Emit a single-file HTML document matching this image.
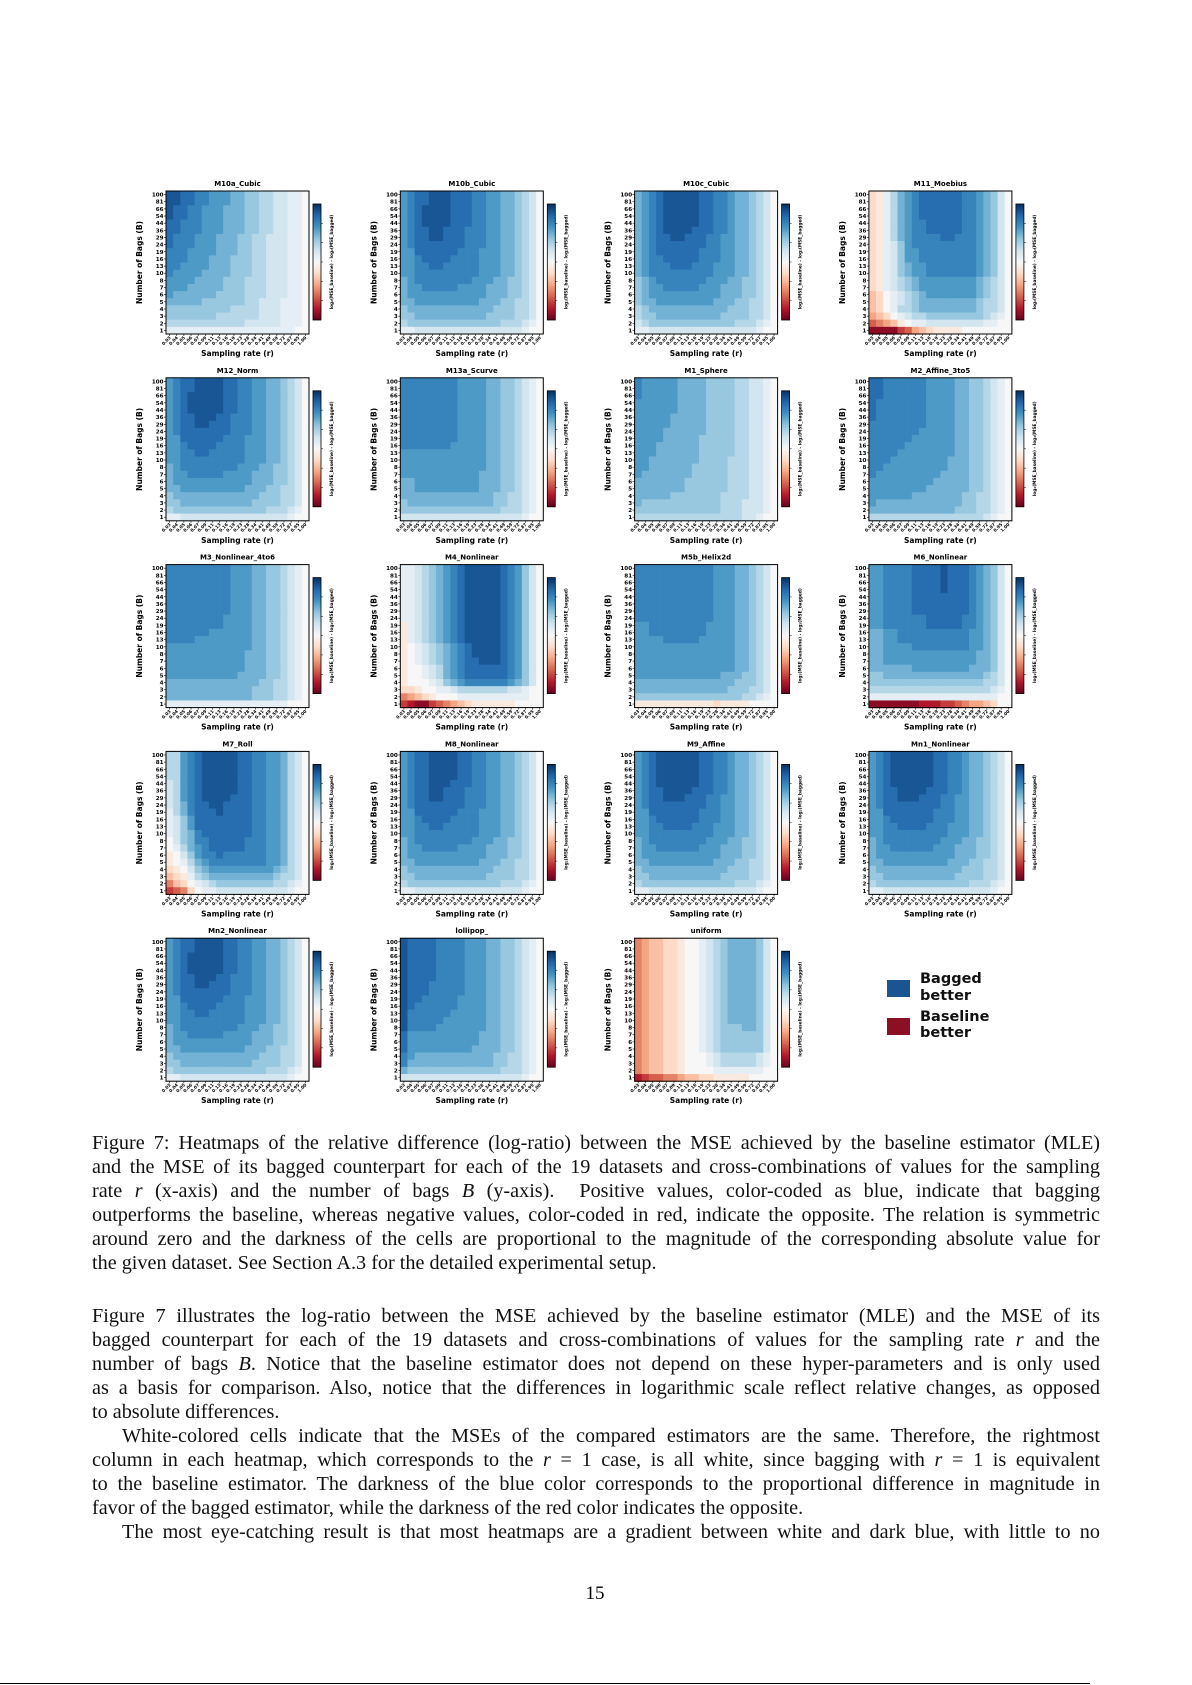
<!DOCTYPE html>
<html><head><meta charset="utf-8">
<style>
html,body{margin:0;padding:0;background:#fff;}
body{width:1192px;height:1685px;position:relative;overflow:hidden;}
#fig{position:absolute;left:0;top:0;}
.ln{position:absolute;left:92px;width:1008px;height:24px;line-height:24px;font-family:"Liberation Serif",serif;font-size:20.2px;color:#111;text-align:justify;text-align-last:justify;white-space:nowrap;}
.ln.last{text-align-last:left;}
.ln.ind{left:122px;width:978px;}
i{font-style:italic;}
</style></head>
<body>
<svg id="fig" width="1192" height="1685"></svg>

<div>
<div class="ln" style="top:1131px">Figure 7: Heatmaps of the relative difference (log-ratio) between the MSE achieved by the baseline estimator (MLE)</div>
<div class="ln" style="top:1155px">and the MSE of its bagged counterpart for each of the 19 datasets and cross-combinations of values for the sampling</div>
<div class="ln" style="top:1179px">rate <i>r</i> (x-axis) and the number of bags <i>B</i> (y-axis). &nbsp;Positive values, color-coded as blue, indicate that bagging</div>
<div class="ln" style="top:1203px">outperforms the baseline, whereas negative values, color-coded in red, indicate the opposite. The relation is symmetric</div>
<div class="ln" style="top:1227px">around zero and the darkness of the cells are proportional to the magnitude of the corresponding absolute value for</div>
<div class="ln last" style="top:1251px">the given dataset. See Section A.3 for the detailed experimental setup.</div>
</div>
<div>
<div class="ln" style="top:1304px">Figure 7 illustrates the log-ratio between the MSE achieved by the baseline estimator (MLE) and the MSE of its</div>
<div class="ln" style="top:1328px">bagged counterpart for each of the 19 datasets and cross-combinations of values for the sampling rate <i>r</i> and the</div>
<div class="ln" style="top:1352px">number of bags <i>B</i>. Notice that the baseline estimator does not depend on these hyper-parameters and is only used</div>
<div class="ln" style="top:1376px">as a basis for comparison. Also, notice that the differences in logarithmic scale reflect relative changes, as opposed</div>
<div class="ln last" style="top:1400px">to absolute differences.</div>
<div class="ln ind" style="top:1424px">White-colored cells indicate that the MSEs of the compared estimators are the same. Therefore, the rightmost</div>
<div class="ln" style="top:1448px">column in each heatmap, which corresponds to the <i>r</i> = 1 case, is all white, since bagging with <i>r</i> = 1 is equivalent</div>
<div class="ln" style="top:1472px">to the baseline estimator. The darkness of the blue color corresponds to the proportional difference in magnitude in</div>
<div class="ln last" style="top:1496px">favor of the bagged estimator, while the darkness of the red color indicates the opposite.</div>
<div class="ln ind" style="top:1520px">The most eye-catching result is that most heatmaps are a gradient between white and dark blue, with little to no</div>
</div>
<div style="position:absolute;left:580px;top:1583px;width:30px;text-align:center;font-family:'Liberation Serif',serif;font-size:19px;">15</div>
<div style="position:absolute;left:0;top:1683px;width:1090px;height:1px;background:#000;"></div>

<script>
const yTicks=["100","81","66","54","44","36","29","24","19","16","13","10","8","7","6","5","4","3","2","1"];
const xTicks=["0.03","0.04","0.05","0.06","0.07","0.09","0.11","0.13","0.16","0.19","0.23","0.28","0.34","0.41","0.49","0.59","0.72","0.87","0.95","1.00"];
const panelTitles=["M10a_Cubic","M10b_Cubic","M10c_Cubic","M11_Moebius","M12_Norm","M13a_Scurve","M1_Sphere","M2_Affine_3to5","M3_Nonlinear_4to6","M4_Nonlinear","M5b_Helix2d","M6_Nonlinear","M7_Roll","M8_Nonlinear","M9_Affine","Mn1_Nonlinear","Mn2_Nonlinear","lollipop_","uniform"];

// cell intensity codes: '0' white, '1'-'9' blue (bagged better), 'a'-'i' red (baseline better)
const gridM10a=["99887766655443322110","99887766655443322110","98877666555443322110","98877666555443322110","88777666555443322110","88777666555443322110","87776665554433222110","87776665554433222110","77766665554433222110","77766655544433222110","77666655544433222110","76666555544433222110","66665555444333222110","66655555444333222110","65555554444333222110","55555444444332221110","44444444433332221110","44444443333332221110","33333333333222221110","11111111111111111100"];
const gridM10b=["67889998887766554320","67889998887766554320","67899998887766554320","67899998887766554320","67899998887766554320","67889988877766554320","67889988877766554320","67888888877766554320","66888888777666554320","66788887777666554320","66778877777666554320","66777777777666554320","56777777776665544320","56677777666655544320","56666666666655544320","55666666666555443320","45555555555554443320","44555555555544443320","34444444444444333210","11222222222222222100"];
const gridM10c=["56789999988776554320","56789999988776554320","56789999988776554320","56789999988776554320","56789999988776554320","56789999888776554320","56788998887766554320","56788888887766554320","56788888877766554320","56778888877766554320","56777888777666554320","56777777777666554320","45677777776665544320","45667777766655544320","45666666666655544320","45566666666555443320","34555555555554443320","34455555555544443320","23444444444444333210","11222222222222222100"];
const gridM11=["ba135678888887765420","ba135678888887765420","ba135678888887765420","ba135678888887765420","ba135677888887765420","ba135677888887765420","ba135677778877765420","ba124677777777765420","ba124667777777765420","ba124667777777765420","ba124566777777765420","ba124566777777765420","ba123456666666654320","ba123456666666654320","cb012345666666654320","cb012345555555543320","cb013345555555543320","dcb01233444444443210","fedca011222222221100","iiiigfdcbaaaa0000000"];
const gridM12=["67889999887766554320","67889999887766554320","67899999887766554320","67899999887766554320","67899999887766554320","67889998877766554320","67889988877766554320","67888888877766554320","66888888777666554320","66788887777666554320","66778877777666554320","66777777777666554320","56777777776665544320","56677777666655544320","56666666666655544320","55666666666555443320","45555555555554443320","44555555555544443320","34444444444444333210","11222222222222222100"];
const gridM13a=["77777777666655443210","77777777666655443210","77777777666655443210","77777777666655443210","77777777666655443210","77777777666655443210","77777777666655443210","77777777666655443210","77777777666655443210","77777776666655443210","66666666666655443210","66666666666655443210","66666666666655443210","66666666666555443210","55666666666555443210","55666666666555443210","55555555555554433210","45555555555554433210","44444444444444333210","22222222222222222100"];
const gridM1=["76666655554444332210","76666655554444332210","76666655554444332210","66666655554444332210","66666655554444332210","66666555554444332210","66666555554444332210","66665555554444332210","66665555544444332210","66655555544444332210","66655555544444332210","66555555544443332210","66555555444443332210","65555555444443332210","55555554444443332210","55555554444443332210","55555444444433332210","54444444444433322210","44444444444433322210","33333333333333322100"];
const gridM2=["88777777666655443210","88777777666655443210","88777777666655443210","87777777666655443210","87777777666655443210","87777777666655443210","77777777666655443210","77777776666655443210","77777766666655443210","77777666666655443210","77776666666655443210","77766666666555443210","77666666666555443210","76666666665555443210","66666666655555443210","66666666555555443210","66666655555554433210","65555555555554433210","55555555555544433210","33333333333333332100"];
const gridM3=["77777777766655443210","77777777766655443210","77777777766655443210","77777777766655443210","77777777766655443210","77777777766655443210","77777777766655443210","77777777666655443210","77777777666655443210","77777766666655443210","77776666666655443210","66666666666655443210","66666666666555443210","66666666666555443210","66666666666555443210","66666666665555443210","55555555555554433210","55555555555544433210","55555555555544433210","11111111111111111000"];
const gridM4=["11234567899999876420","11234567899999876420","11234567899999876420","11234567899999876420","11234567899999876420","11234567899999876420","11234567899999876420","11234567899999876420","a1234567899999876420","a1234567899999876420","a1234567899999876420","a0123456789999876420","a0123456789999876420","a0123456788999876420","a0012356788888876420","a0012356788888876420","a0001245677777765420","bba00112333333322100","edcba000111111111100","ghiigfedcbaaaaaa0000"];
const gridM5b=["77777777777666554320","77777777777666554320","77777777777666554320","77777777777666554320","77777777777666554320","77777777777666554320","77777777777666554320","77777777777666554320","66777777776666554320","66777777776666554320","66667777766666554320","66666666666666554320","66666666666666554320","66666666666666554320","66666666666666554320","66666666666655544320","55555555555555444320","55555555555554443320","44444444444444433210","aaaaaaaaaaabaaaa0000"];
const gridM6=["66777788889888765420","66777788889888765420","66777788889888765420","66777788889888765420","66777788888888765420","66777788888888765420","66777788888888765420","66777777888887765420","66777777888887765420","55667777777777665420","55667777777777665420","55666677777777665420","55666666666666655420","55666666666666655420","55555566666666555420","44555555555555554320","44444444444444443320","33333333333333333210","11111111111111111100","iiiiiiihhhggfeddcb00"];
const gridM7=["33678999998877665320","33678999998877665320","33678999998877665320","33678999998877665320","23678999998877665320","23678999998877665320","23678999988877665320","23578899888877665320","13578889888877665320","12468888888877665320","12468888888877665320","12457888888877665320","02457788888777665320","01356788888777665320","a0246778777777665320","a0135677777777665320","ba024566666666654320","cba13455555555543320","ecb01234444444433210","gfeb0112222222222100"];
const gridM8=["67889999887766554320","67889999887766554320","67889999887766554320","67889999887766554320","67889998887766554320","67889988877766554320","67889988877766554320","67888888877766554320","66888888777666554320","66788887777666554320","66778877777666554320","66777777777666554320","56777777776665544320","56677777666655544320","56666666666655544320","55666666666555443320","45555555555554443320","44555555555544443320","34444444444444333210","11222222222222222100"];
const gridM9=["67899999988776554320","67899999988776554320","67899999988776554320","67899999988776554320","67899999988776554320","67889999888776554320","67889998887766554320","67888888887766554320","66888888877766554320","66788888877766554320","66778888777666554320","66777777777666554320","56777777776665544320","56677777766655544320","56666666666655544320","55666666666555443320","45555555555554443320","44555555555544443320","34444444444444333210","11222222222222222100"];
const gridMn1=["67899999988776554320","67899999988776554320","67899999988776554320","67899999988776554320","67899999988776554320","67889999888776554320","67889998887766554320","67888888887766554320","66888888877766554320","66788888877766554320","66778888777666554320","66777777777666554320","56777777776665544320","56677777766655544320","56666666666655544320","55666666666555443320","45555555555554443320","44555555555544443320","34444444444444333210","11222222222222222100"];
const gridMn2=["67889999887766554320","67889999887766554320","67899999887766554320","67899999887766554320","67899999887766554320","67889998877766554320","67889988877766554320","67888888877766554320","66888888777666554320","66788887777666554320","66778877777666554320","66777777777666554320","56777777776665544320","56677777666655544320","56666666666655544320","55666666666555443320","45555555555554443320","44555555555544443320","34444444444444333210","11222222222222222100"];
const gridLollipop=["98888777766655443210","98888777766655443210","98888777766655443210","98888777766655443210","98888777766655443210","98888777766655443210","98887777766655443210","98887777766655443210","98877777666655443210","98777777666655443210","97777776666655443210","97777766666655443210","97777666666655443210","86666666666555443210","86666666666555443210","86666666665555443210","76555555555554433210","75555555555554433210","54444444444444333210","22222222222222222100"];
const gridUniform=["edccbba0012345555420","edccbba0012345555420","edccbba0012345555420","edccbba0012345555420","edccbba0012345555420","edccbba0012345555420","edccbba0012345555420","edccbba0012345555420","edccbba0012345555420","edccbba0012345555420","edccbba0012345555420","edccbba0012345555420","edccbba0012344455420","edccbba0012344444420","edccbba0012344444420","edccbba0012344444420","edccbba0001233333210","edccbba0001233333210","edccbba0000111111100","hgffeedccbbaaaaa0000"];
const gridList=[gridM10a,gridM10b,gridM10c,gridM11,gridM12,gridM13a,gridM1,gridM2,gridM3,gridM4,gridM5b,gridM6,gridM7,gridM8,gridM9,gridMn1,gridMn2,gridLollipop,gridUniform];

const NS="http://www.w3.org/2000/svg";
const svg=document.getElementById('fig');
const STOPS=['#67001f','#b2182b','#d6604d','#f4a582','#fddbc7','#f7f7f7','#d1e5f0','#92c5de','#4393c3','#2166ac','#053061'];
function hex(h){return [parseInt(h.slice(1,3),16),parseInt(h.slice(3,5),16),parseInt(h.slice(5,7),16)];}
function cmap(v){let t=(Math.max(-1,Math.min(1,v))+1)/2*(STOPS.length-1);let i=Math.min(Math.floor(t),STOPS.length-2);let f=t-i;let a=hex(STOPS[i]),b=hex(STOPS[i+1]);return 'rgb('+a.map((x,k)=>Math.round(x+(b[k]-x)*f)).join(',')+')';}
function codeVal(c){if(c>='0'&&c<='9')return (+c)/9*0.86;return -((c.charCodeAt(0)-96))/9*0.9;}
function mk(tag,attrs,parent){const e=document.createElementNS(NS,tag);for(const k in attrs)e.setAttribute(k,attrs[k]);(parent||svg).appendChild(e);return e;}

const SZ=143;
function xScale(left,j){return left+j*SZ/xTicks.length;}
function yScale(top,i){return top+i*SZ/yTicks.length;}
const FONT='DejaVu Sans, Liberation Sans, sans-serif';

const defs=mk('defs',{});
const lg=mk('linearGradient',{id:'rdbu',x1:'0',y1:'1',x2:'0',y2:'0'},defs);
STOPS.forEach((c,k)=>{mk('stop',{offset:(k/(STOPS.length-1)),'stop-color':c},lg);});

gridList.forEach((grid,p)=>{
  const c=p%4, r=Math.floor(p/4);
  const left=166+c*234.3, top=191+r*186.8;
  const g=mk('g',{});
  
  
  const cw=SZ/xTicks.length, ch=SZ/yTicks.length;
  grid.forEach((row,i)=>{
    for(let j=0;j<row.length;j++){
      const rc=mk('rect',{x:xScale(left,j),y:yScale(top,i),width:cw+0.6,height:ch+0.6,fill:cmap(codeVal(row[j]))},g);
      
      
    }
  });
  const fr=mk('rect',{x:left,y:top,width:SZ,height:SZ,fill:'none',stroke:'#000','stroke-width':1},g);
  
  
  const t=mk('text',{x:left+SZ/2,y:top-5,'text-anchor':'middle','font-family':FONT,'font-size':7,'font-weight':'bold'},g);
  t.textContent=panelTitles[p];
  
  
  yTicks.forEach((lab,i)=>{
    const yy=yScale(top,i)+ch/2;
    mk('line',{x1:left-2,x2:left,y1:yy,y2:yy,stroke:'#000','stroke-width':0.6},g);
    const tt=mk('text',{x:left-2.5,y:yy+2,'text-anchor':'end','font-family':FONT,'font-size':5.6,'font-weight':'bold'},g);
    tt.textContent=lab;
    
    
  });
  xTicks.forEach((lab,j)=>{
    const xx=xScale(left,j)+cw/2;
    mk('line',{x1:xx,x2:xx,y1:top+SZ,y2:top+SZ+2,stroke:'#000','stroke-width':0.6},g);
    const tt=mk('text',{x:xx+1.5,y:top+SZ+4,'text-anchor':'end','font-family':FONT,'font-size':4.3,'font-weight':'bold',transform:'rotate(-45 '+(xx+1.5)+' '+(top+SZ+4)+')'},g);
    tt.textContent=lab;
    
    
  });
  const yl=mk('text',{x:0,y:0,'text-anchor':'middle','font-family':FONT,'font-size':7.5,'font-weight':'bold',transform:'translate('+(left-24)+','+(top+SZ/2)+') rotate(-90)'},g);
  yl.textContent='Number of Bags (B)';
  
  
  const xl=mk('text',{x:left+SZ/2,y:top+SZ+22,'text-anchor':'middle','font-family':FONT,'font-size':7.5,'font-weight':'bold'},g);
  xl.textContent='Sampling rate (r)';
  
  
  const cbx=left+147, cby=top+13, cbh=116;
  const cb=mk('rect',{x:cbx,y:cby,width:8,height:cbh,fill:'url(#rdbu)',stroke:'#000','stroke-width':0.8},g);
  
  
  for(let k=1;k<=5;k++){
    const yy=cby+cbh*k/6;
    mk('line',{x1:cbx+8,x2:cbx+10,y1:yy,y2:yy,stroke:'#000','stroke-width':0.5},g);
  }
  const cl=mk('text',{x:0,y:0,'text-anchor':'middle','font-family':FONT,'font-size':4.3,'font-weight':'bold',transform:'translate('+(cbx+20)+','+(cby+cbh/2)+') rotate(-90)'},g);
  cl.textContent='log\u2082(MSE_baseline) - log\u2082(MSE_bagged)';
  
  
});

const leg=mk('g',{});


const lb=mk('rect',{x:887,y:980,width:23,height:17,fill:'#1a5591'},leg);


const lr=mk('rect',{x:887,y:1018,width:23,height:17,fill:'#8c1023'},leg);


[["Bagged",983],["better",1000],["Baseline",1021],["better",1037]].forEach(([s,y])=>{
  const t=mk('text',{x:920,y:y,'font-family':FONT,'font-size':14.5,'font-weight':'bold',fill:'#111'},leg);
  t.textContent=s;
  
  
});
</script>
</body></html>
